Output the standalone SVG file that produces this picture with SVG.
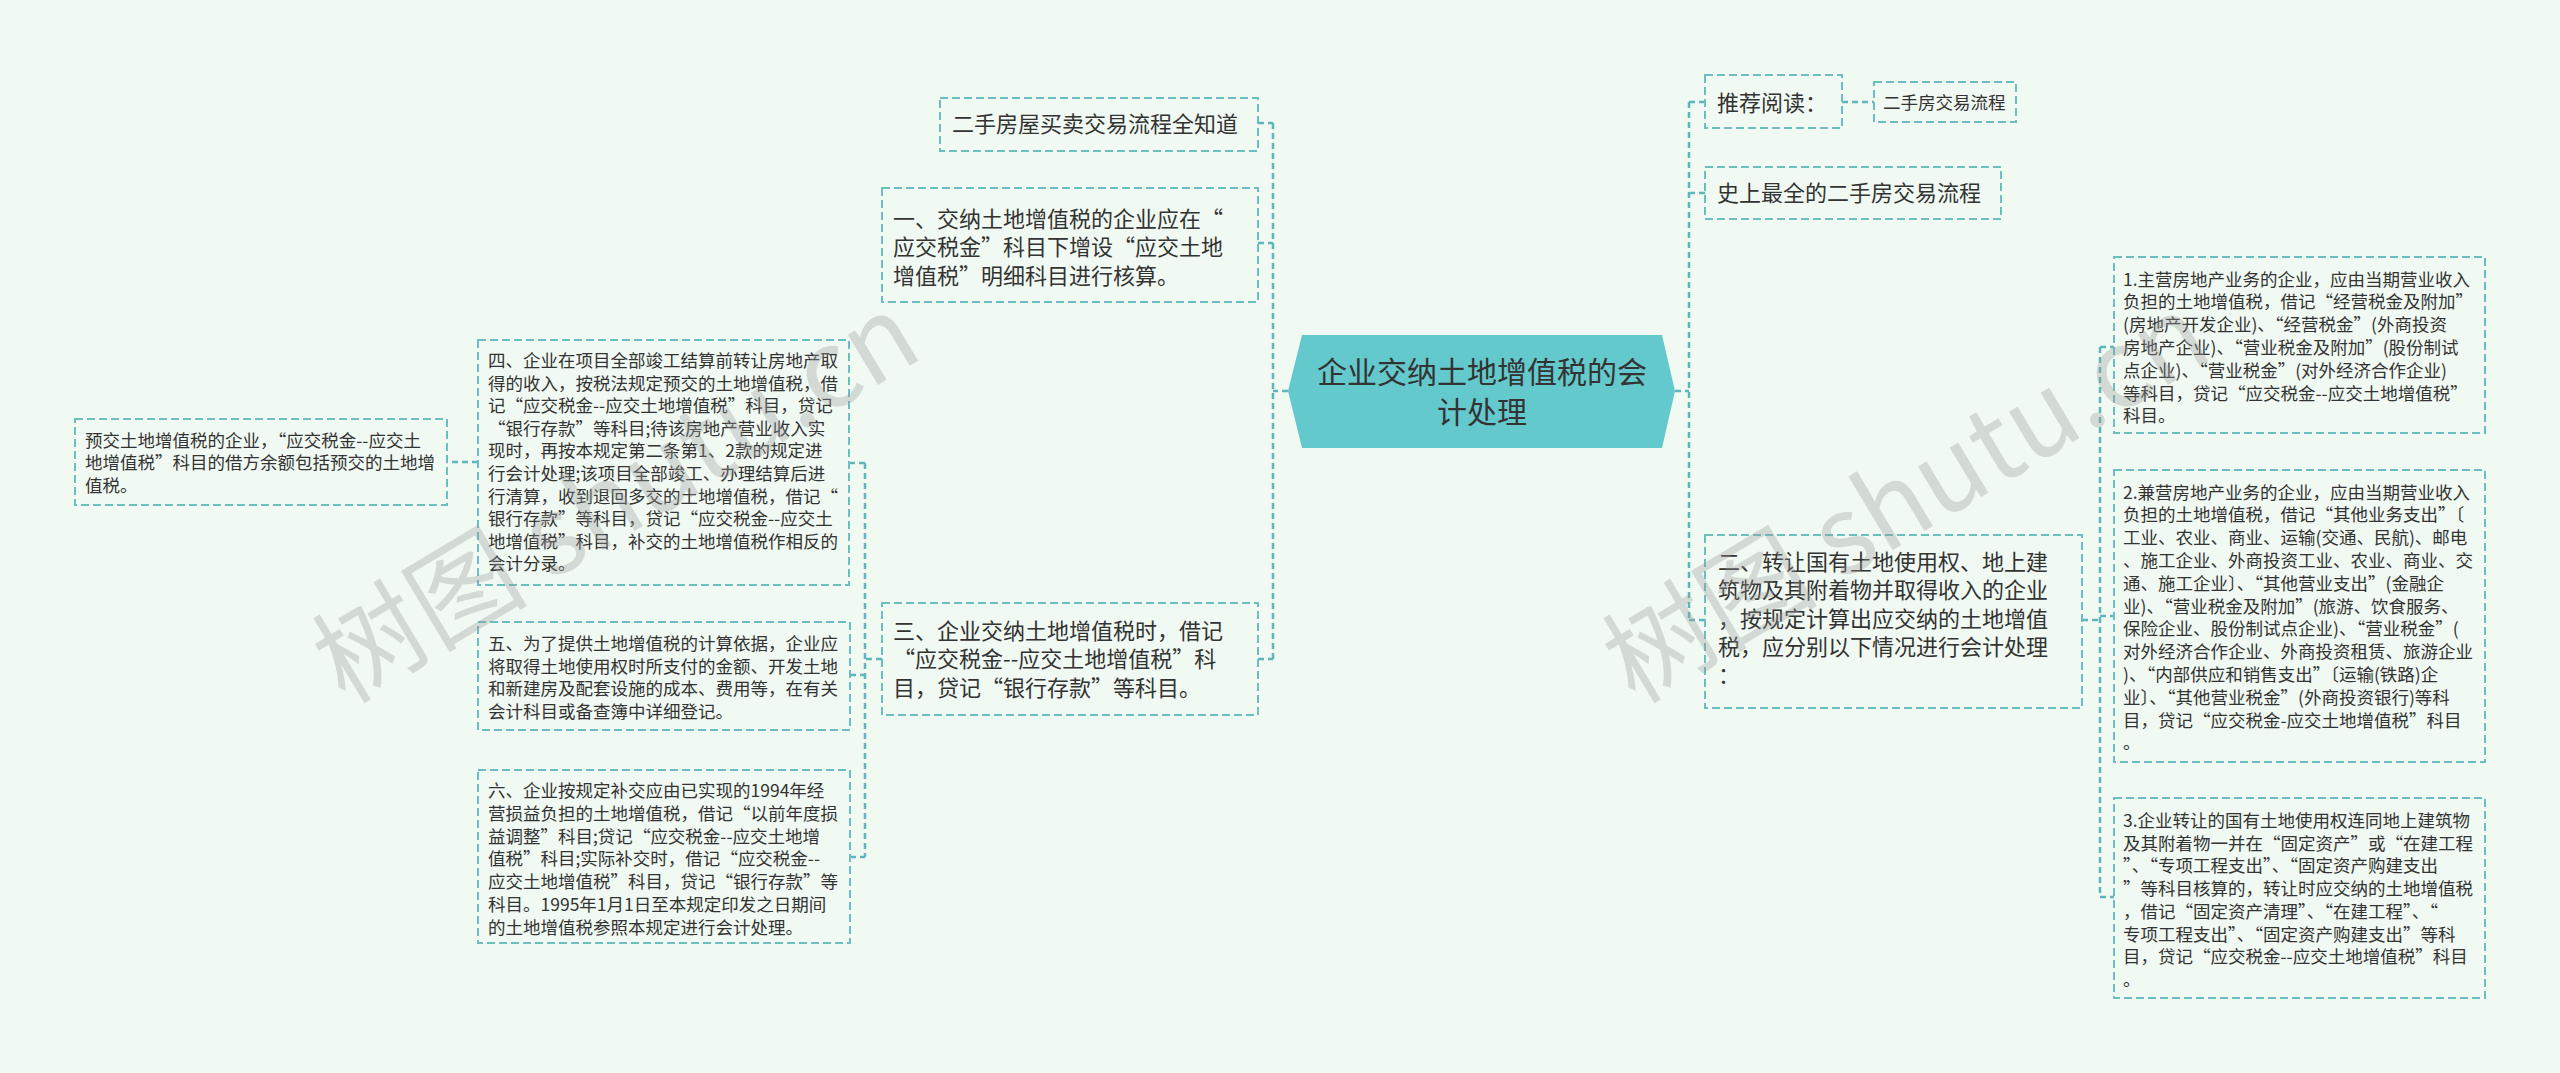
<svg xmlns="http://www.w3.org/2000/svg" width="2560" height="1073" viewBox="0 0 2560 1073">
<style>
.box{fill:none;stroke:#6BBFC1;stroke-width:2;stroke-dasharray:8 4;}
.con{fill:none;stroke:#5DB6BA;stroke-width:2.5;stroke-dasharray:6 4;}
.t{font-family:"Noto Sans CJK SC","Noto Sans",sans-serif;fill:#333333;}
.l{font-size:22px;}
.s{font-size:17.5px;}
.q{font-feature-settings:"fwid" 1;}
.wm{font-family:"Noto Sans CJK SC","Noto Sans",sans-serif;font-size:108px;fill:#9A9A9A;opacity:0.33;}
</style>
<rect width="2560" height="1073" fill="#F0F9F2"/>
<g id="connectors">
<path class="con" d="M1288 391H1273M1273 123V659M1258 123H1273M1258 243H1273M1258 659H1273"/>
<path class="con" d="M882 659H865M865 463V857M849 463H865M850 675H865M850 857H865"/>
<path class="con" d="M478 462H447"/>
<path class="con" d="M1675 391H1689M1689 102V620M1689 102H1705M1689 193H1705M1689 620H1705M1842 102H1874"/>
<path class="con" d="M2082 620H2100M2100 347V897M2100 347H2114M2100 616H2114M2100 897H2114"/>
</g>
<g id="root">
<polygon points="1302,335 1662,335 1675,391 1662,448 1302,448 1288,391" fill="#63C9CC"/>
<text class="t" font-size="30" text-anchor="middle"><tspan x="1482" y="383">企业交纳土地增值税的会</tspan><tspan x="1482" y="423">计处理</tspan></text>
</g>
<g id="n-quanzhidao">
<rect class="box" x="940" y="98" width="318" height="53"/>
<text class="t l" x="952" y="131.5">二手房屋买卖交易流程全知道</text>
</g>
<g id="n-yi">
<rect class="box" x="882" y="188" width="376" height="114"/>
<text class="t l"><tspan x="893" y="226.5">一、交纳土地增值税的企业应在<tspan class="q">“</tspan></tspan><tspan x="893" y="255">应交税金<tspan class="q">”</tspan>科目下增设<tspan class="q">“</tspan>应交土地</tspan><tspan x="893" y="283.5">增值税<tspan class="q">”</tspan>明细科目进行核算。</tspan></text>
</g>
<g id="n-san">
<rect class="box" x="882" y="603" width="376" height="112"/>
<text class="t l"><tspan x="893" y="638.5">三、企业交纳土地增值税时，借记</tspan><tspan x="893" y="667"><tspan class="q">“</tspan>应交税金--应交土地增值税<tspan class="q">”</tspan>科</tspan><tspan x="893" y="695.5">目，贷记<tspan class="q">“</tspan>银行存款<tspan class="q">”</tspan>等科目。</tspan></text>
</g>
<g id="n-si">
<rect class="box" x="478" y="340" width="371" height="245"/>
<text class="t s"><tspan x="488" y="367">四、企业在项目全部竣工结算前转让房地产取</tspan><tspan x="488" y="389.6">得的收入，按税法规定预交的土地增值税，借</tspan><tspan x="488" y="412.2">记<tspan class="q">“</tspan>应交税金--应交土地增值税<tspan class="q">”</tspan>科目，贷记</tspan><tspan x="488" y="434.8"><tspan class="q">“</tspan>银行存款<tspan class="q">”</tspan>等科目;待该房地产营业收入实</tspan><tspan x="488" y="457.4">现时，再按本规定第二条第1、2款的规定进</tspan><tspan x="488" y="480">行会计处理;该项目全部竣工、办理结算后进</tspan><tspan x="488" y="502.6">行清算，收到退回多交的土地增值税，借记<tspan class="q">“</tspan></tspan><tspan x="488" y="525.2">银行存款<tspan class="q">”</tspan>等科目，贷记<tspan class="q">“</tspan>应交税金--应交土</tspan><tspan x="488" y="547.8">地增值税<tspan class="q">”</tspan>科目，补交的土地增值税作相反的</tspan><tspan x="488" y="570.4">会计分录。</tspan></text>
</g>
<g id="n-yujiao">
<rect class="box" x="75" y="419" width="372" height="86"/>
<text class="t s"><tspan x="85" y="446.5">预交土地增值税的企业，<tspan class="q">“</tspan>应交税金--应交土</tspan><tspan x="85" y="469">地增值税<tspan class="q">”</tspan>科目的借方余额包括预交的土地增</tspan><tspan x="85" y="491.5">值税。</tspan></text>
</g>
<g id="n-wu">
<rect class="box" x="478" y="622" width="372" height="108"/>
<text class="t s"><tspan x="488" y="650">五、为了提供土地增值税的计算依据，企业应</tspan><tspan x="488" y="672.7">将取得土地使用权时所支付的金额、开发土地</tspan><tspan x="488" y="695.4">和新建房及配套设施的成本、费用等，在有关</tspan><tspan x="488" y="718.1">会计科目或备查簿中详细登记。</tspan></text>
</g>
<g id="n-liu">
<rect class="box" x="478" y="770" width="372" height="173"/>
<text class="t s"><tspan x="488" y="797">六、企业按规定补交应由已实现的1994年经</tspan><tspan x="488" y="819.8">营损益负担的土地增值税，借记<tspan class="q">“</tspan>以前年度损</tspan><tspan x="488" y="842.6">益调整<tspan class="q">”</tspan>科目;贷记<tspan class="q">“</tspan>应交税金--应交土地增</tspan><tspan x="488" y="865.4">值税<tspan class="q">”</tspan>科目;实际补交时，借记<tspan class="q">“</tspan>应交税金--</tspan><tspan x="488" y="888.2">应交土地增值税<tspan class="q">”</tspan>科目，贷记<tspan class="q">“</tspan>银行存款<tspan class="q">”</tspan>等</tspan><tspan x="488" y="911">科目。1995年1月1日至本规定印发之日期间</tspan><tspan x="488" y="933.8">的土地增值税参照本规定进行会计处理。</tspan></text>
</g>
<g id="n-tuijian">
<rect class="box" x="1705" y="75" width="137" height="53"/>
<text class="t l" x="1717" y="111">推荐阅读：</text>
</g>
<g id="n-ershoufang">
<rect class="box" x="1874" y="82" width="142" height="40"/>
<text class="t s" x="1883" y="108.5">二手房交易流程</text>
</g>
<g id="n-shishang">
<rect class="box" x="1705" y="167" width="296" height="52"/>
<text class="t l" x="1717" y="201">史上最全的二手房交易流程</text>
</g>
<g id="n-er">
<rect class="box" x="1705" y="535" width="377" height="173"/>
<text class="t l"><tspan x="1718" y="570">二、转让国有土地使用权、地上建</tspan><tspan x="1718" y="598.3">筑物及其附着物并取得收入的企业</tspan><tspan x="1718" y="626.6">，按规定计算出应交纳的土地增值</tspan><tspan x="1718" y="654.9">税，应分别以下情况进行会计处理</tspan><tspan x="1718" y="683.2">：</tspan></text>
</g>
<g id="n-1">
<rect class="box" x="2114" y="257" width="371" height="176"/>
<text class="t s"><tspan x="2123" y="285.5">1.主营房地产业务的企业，应由当期营业收入</tspan><tspan x="2123" y="308.3">负担的土地增值税，借记<tspan class="q">“</tspan>经营税金及附加<tspan class="q">”</tspan></tspan><tspan x="2123" y="331.1">(房地产开发企业)、<tspan class="q">“</tspan>经营税金<tspan class="q">”</tspan>(外商投资</tspan><tspan x="2123" y="353.9">房地产企业)、<tspan class="q">“</tspan>营业税金及附加<tspan class="q">”</tspan>(股份制试</tspan><tspan x="2123" y="376.7">点企业)、<tspan class="q">“</tspan>营业税金<tspan class="q">”</tspan>(对外经济合作企业)</tspan><tspan x="2123" y="399.5">等科目，贷记<tspan class="q">“</tspan>应交税金--应交土地增值税<tspan class="q">”</tspan></tspan><tspan x="2123" y="422.3">科目。</tspan></text>
</g>
<g id="n-2">
<rect class="box" x="2114" y="470" width="371" height="292"/>
<text class="t s"><tspan x="2123" y="498.5">2.兼营房地产业务的企业，应由当期营业收入</tspan><tspan x="2123" y="521.3">负担的土地增值税，借记<tspan class="q">“</tspan>其他业务支出<tspan class="q">”</tspan>〔</tspan><tspan x="2123" y="544.1">工业、农业、商业、运输(交通、民航)、邮电</tspan><tspan x="2123" y="566.9">、施工企业、外商投资工业、农业、商业、交</tspan><tspan x="2123" y="589.7">通、施工企业〕、<tspan class="q">“</tspan>其他营业支出<tspan class="q">”</tspan>(金融企</tspan><tspan x="2123" y="612.5">业)、<tspan class="q">“</tspan>营业税金及附加<tspan class="q">”</tspan>(旅游、饮食服务、</tspan><tspan x="2123" y="635.3">保险企业、股份制试点企业)、<tspan class="q">“</tspan>营业税金<tspan class="q">”</tspan>(</tspan><tspan x="2123" y="658.1">对外经济合作企业、外商投资租赁、旅游企业</tspan><tspan x="2123" y="680.9">)、<tspan class="q">“</tspan>内部供应和销售支出<tspan class="q">”</tspan>〔运输(铁路)企</tspan><tspan x="2123" y="703.7">业〕、<tspan class="q">“</tspan>其他营业税金<tspan class="q">”</tspan>(外商投资银行)等科</tspan><tspan x="2123" y="726.5">目，贷记<tspan class="q">“</tspan>应交税金-应交土地增值税<tspan class="q">”</tspan>科目</tspan><tspan x="2123" y="749.3">。</tspan></text>
</g>
<g id="n-3">
<rect class="box" x="2114" y="798" width="371" height="200"/>
<text class="t s"><tspan x="2123" y="827">3.企业转让的国有土地使用权连同地上建筑物</tspan><tspan x="2123" y="849.7">及其附着物一并在<tspan class="q">“</tspan>固定资产<tspan class="q">”</tspan>或<tspan class="q">“</tspan>在建工程</tspan><tspan x="2123" y="872.4"><tspan class="q">”</tspan>、<tspan class="q">“</tspan>专项工程支出<tspan class="q">”</tspan>、<tspan class="q">“</tspan>固定资产购建支出</tspan><tspan x="2123" y="895.1"><tspan class="q">”</tspan>等科目核算的，转让时应交纳的土地增值税</tspan><tspan x="2123" y="917.8">，借记<tspan class="q">“</tspan>固定资产清理<tspan class="q">”</tspan>、<tspan class="q">“</tspan>在建工程<tspan class="q">”</tspan>、<tspan class="q">“</tspan></tspan><tspan x="2123" y="940.5">专项工程支出<tspan class="q">”</tspan>、<tspan class="q">“</tspan>固定资产购建支出<tspan class="q">”</tspan>等科</tspan><tspan x="2123" y="963.2">目，贷记<tspan class="q">“</tspan>应交税金--应交土地增值税<tspan class="q">”</tspan>科目</tspan><tspan x="2123" y="985.9">。</tspan></text>
</g>
<g id="watermarks">
<text class="wm" transform="translate(345,705) rotate(-31)">树图 shutu.cn</text>
<text class="wm" transform="translate(1635,705) rotate(-31)">树图 shutu.cn</text>
</g>
</svg>
